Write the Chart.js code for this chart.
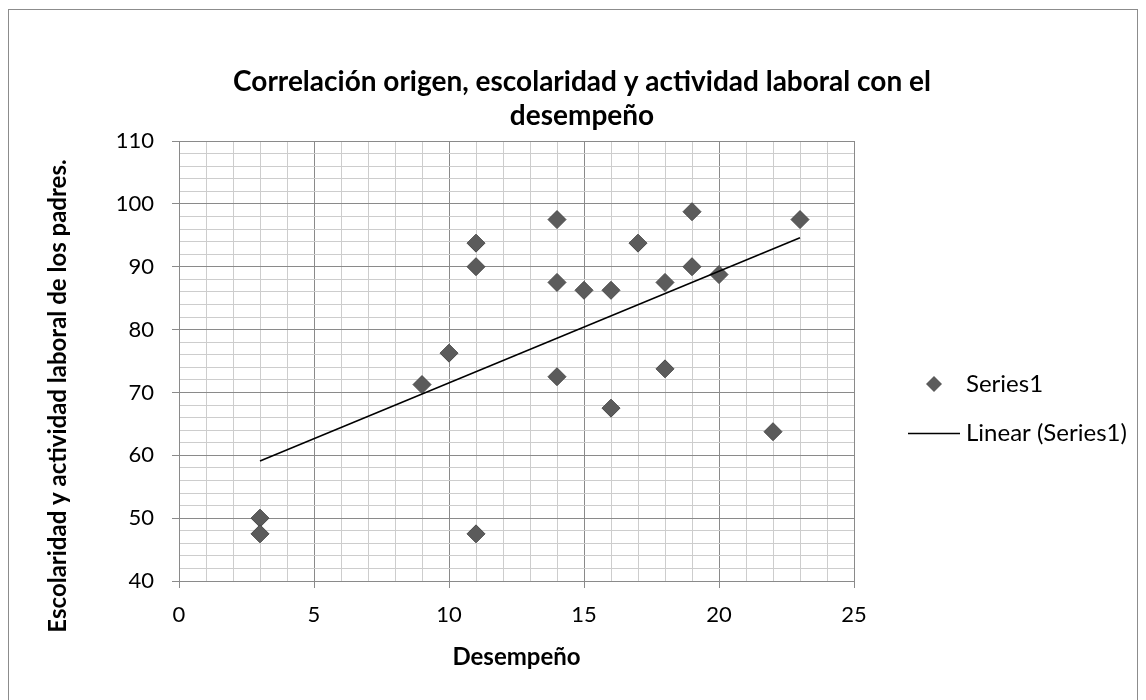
<!DOCTYPE html>
<html>
<head>
<meta charset="utf-8">
<script src="https://cdn.jsdelivr.net/npm/chart.js@4.4.1/dist/chart.umd.min.js"></script>
<style>
  html, body { margin: 0; padding: 0; background: #ffffff; }
  #wrap { width: 1146px; height: 700px; position: relative; }
</style>
</head>
<body>
<div id="wrap"><canvas id="c" width="1146" height="700"></canvas></div>
<script>
// ---- data ----
const desempeno = [3, 3, 9, 10, 11, 11, 11, 14, 14, 14, 15, 16, 16, 17, 18, 18, 19, 19, 20, 22, 23];
const escolaridad = [50, 47.5, 71.25, 76.25, 93.75, 90, 47.5, 97.5, 87.5, 72.5, 86.25, 86.25, 67.5, 93.75, 87.5, 73.75, 98.75, 90, 88.75, 63.75, 97.5];
const trendX = [3, 23];
const trendY = [59.1, 94.6];
const titleLines = ["Correlación origen, escolaridad y actividad laboral con el", "desempeño"];
const xTitle = "Desempeño";
const yTitle = "Escolaridad y actividad laboral de los padres.";
const seriesName = "Series1";
const trendName = "Linear (Series1)";

const FONT = "Lato, 'Open Sans', 'DejaVu Sans', sans-serif";
const MAJOR = '#8a8a8a';
const MINOR = '#cdcdcd';

const scatterPts = desempeno.map((x, i) => ({ x: x, y: escolaridad[i] }));
const trendPts = trendX.map((x, i) => ({ x: x, y: trendY[i] }));

const framePlugin = {
  id: 'frame',
  beforeDraw(chart) {
    const ctx = chart.ctx;
    ctx.save();
    ctx.fillStyle = '#ffffff';
    ctx.fillRect(0, 0, chart.width, chart.height);
    ctx.strokeStyle = '#8c8c8c';
    ctx.lineWidth = 1;
    ctx.strokeRect(8.5, 9.5, 1129, 720);
    ctx.restore();
  },
  afterDraw(chart) {
    const ctx = chart.ctx;
    const area = chart.chartArea;
    ctx.save();
    ctx.fillStyle = '#000000';
    // chart title
    ctx.font = "bold 28px " + FONT;
    ctx.textAlign = 'center';
    ctx.textBaseline = 'middle';
    ctx.fillText(titleLines[0], 582, 82);
    ctx.fillText(titleLines[1], 582, 116);
    // x axis title
    ctx.font = "bold 24px " + FONT;
    ctx.textBaseline = 'alphabetic';
    ctx.fillText(xTitle, (area.left + area.right) / 2, 665);
    // y axis title
    ctx.save();
    ctx.translate(58, 396);
    ctx.rotate(-Math.PI / 2);
    ctx.textBaseline = 'middle';
    ctx.fillText(yTitle, 0, 0);
    ctx.restore();

    // legend: scatter marker
    const ds0 = chart.data.datasets[0];
    const mx = 934, my = 384, r = 8;
    ctx.fillStyle = ds0.backgroundColor;
    ctx.beginPath();
    ctx.moveTo(mx, my - r);
    ctx.lineTo(mx + r, my);
    ctx.lineTo(mx, my + r);
    ctx.lineTo(mx - r, my);
    ctx.closePath();
    ctx.fill();
    ctx.fillStyle = '#000000';
    ctx.font = "24px " + FONT;
    ctx.textBaseline = 'middle';
    ctx.textAlign = 'left';
    ctx.fillText(ds0.label, 966, my);
    // legend: trend line
    const ds1 = chart.data.datasets[1];
    ctx.strokeStyle = ds1.borderColor;
    ctx.lineWidth = 1.5;
    ctx.beginPath();
    ctx.moveTo(908, 433.5);
    ctx.lineTo(960, 433.5);
    ctx.stroke();
    ctx.fillText(ds1.label, 966, 433);
    ctx.restore();
  }
};

new Chart(document.getElementById('c'), {
  type: 'scatter',
  data: {
    datasets: [
      {
        label: seriesName,
        data: scatterPts,
        pointStyle: 'rectRot',
        pointRadius: 9,
        pointHoverRadius: 9,
        backgroundColor: '#5b5b5b',
        borderColor: '#4a4a4a',
        borderWidth: 1,
        order: 1
      },
      {
        label: trendName,
        type: 'line',
        data: trendPts,
        showLine: true,
        borderColor: '#000000',
        borderWidth: 1.5,
        pointRadius: 0,
        fill: false,
        order: 0
      }
    ]
  },
  plugins: [framePlugin],
  options: {
    responsive: false,
    animation: false,
    events: [],
    layout: { padding: { left: 30, right: 292, top: 141, bottom: 20 } },
    plugins: {
      legend: { display: false },
      tooltip: { enabled: false },
      title: { display: false }
    },
    scales: {
      x: {
        type: 'linear',
        min: 0, max: 25,
        afterFit(s) { s.height = 99; },
        ticks: {
          stepSize: 1,
          autoSkip: false,
          maxRotation: 0,
          padding: 14,
          color: '#000000',
          font: { family: FONT, size: 22 },
          callback: (v) => (v % 5 === 0 ? String(v) : '')
        },
        grid: {
          color: (c) => (c.tick && c.tick.value % 5 === 0 ? MAJOR : MINOR),
          tickColor: (c) => (c.tick && c.tick.value % 5 === 0 ? MAJOR : 'rgba(0,0,0,0)'),
          tickLength: 7,
          lineWidth: 1
        },
        border: { color: MAJOR },
        title: { display: false, text: xTitle }
      },
      y: {
        type: 'linear',
        min: 40, max: 110,
        afterFit(s) { s.width = 149; },
        ticks: {
          stepSize: 2,
          autoSkip: false,
          padding: 18,
          color: '#000000',
          font: { family: FONT, size: 22 },
          callback: (v) => (v % 10 === 0 ? String(v) : '')
        },
        grid: {
          color: (c) => (c.tick && c.tick.value % 10 === 0 ? MAJOR : MINOR),
          tickColor: (c) => (c.tick && c.tick.value % 10 === 0 ? MAJOR : 'rgba(0,0,0,0)'),
          tickLength: 7,
          lineWidth: 1
        },
        border: { color: MAJOR },
        title: { display: false, text: yTitle }
      }
    }
  }
});
</script>
</body>
</html>
